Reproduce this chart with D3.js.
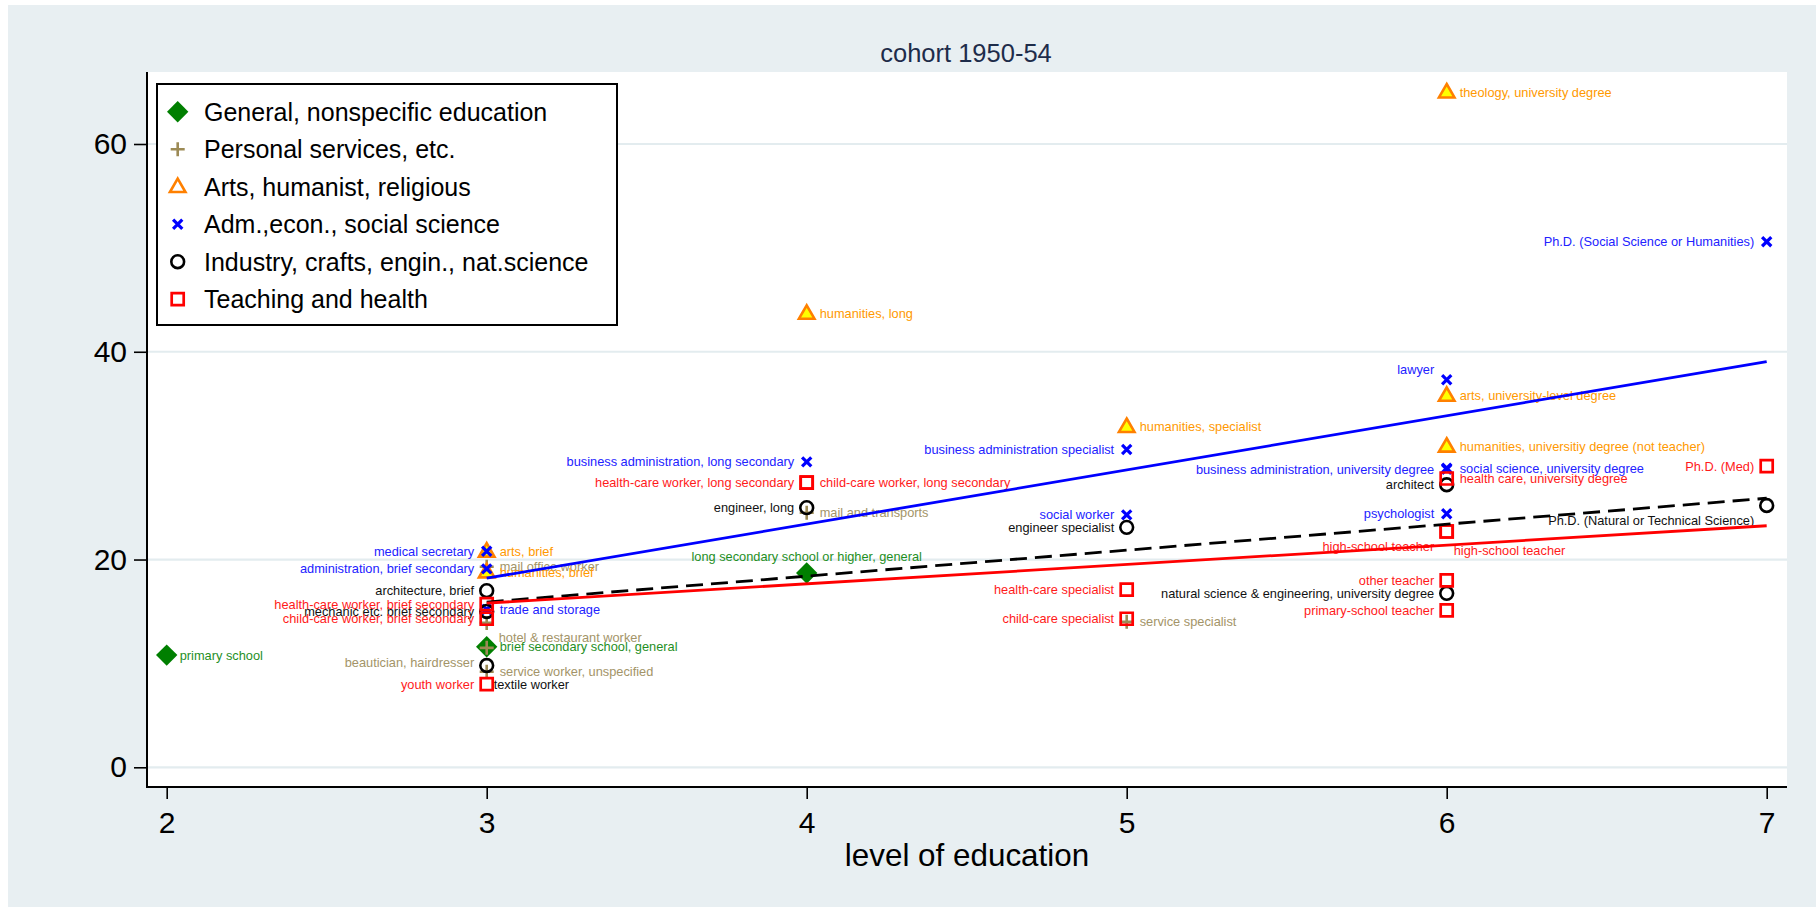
<!DOCTYPE html>
<html>
<head>
<meta charset="utf-8">
<script src="https://cdn.jsdelivr.net/npm/d3@7"></script>
<style>
  html, body { margin: 0; padding: 0; background: #ffffff; }
  svg { display: block; }
  text { font-family: "Liberation Sans", Arial, Helvetica, sans-serif; }
</style>
</head>
<body>
<svg id="chart" width="1816" height="907"></svg>
<script>
// ---------------- DATA ----------------
const title = "cohort 1950-54";
const xTitle = "level of education";
const xTicks = [2, 3, 4, 5, 6, 7];
const yTicks = [0, 20, 40, 60];

const categories = [
  "General, nonspecific education",
  "Personal services, etc.",
  "Arts, humanist, religious",
  "Adm.,econ., social science",
  "Industry, crafts, engin., nat.science",
  "Teaching and health"
];

// General, nonspecific education
const generalLevel = [2, 3, 4];
const generalValue = [10.8, 11.6, 18.7];
const generalLabel = ["primary school", "brief secondary school, general", "long secondary school or higher, general"];
const generalClock = [3, 3, 12];

// Personal services, etc.
const personalLevel = [3, 3, 3, 3, 4, 5];
const personalValue = [19.3, 13.9, 11.5, 9.2, 24.5, 14.0];
const personalLabel = ["mail office worker", "hotel & restaurant worker", "beautician, hairdresser", "service worker, unspecified", "mail and transports", "service specialist"];
const personalClock = [3, 4, 7, 3, 3, 3];

// Arts, humanist, religious
const artsLevel = [3, 3, 4, 5, 6, 6, 6];
const artsValue = [20.8, 18.8, 43.7, 32.8, 65.0, 35.8, 30.9];
const artsLabel = ["arts, brief", "humanities, brief", "humanities, long", "humanities, specialist", "theology, university degree", "arts, university-level degree", "humanities, universitiy degree (not teacher)"];
const artsClock = [3, 3, 3, 3, 3, 3, 3];

// Adm., econ., social science
const admLevel = [3, 3, 3, 4, 5, 5, 6, 6, 6, 6, 7];
const admValue = [20.8, 19.1, 15.2, 29.4, 30.6, 24.3, 37.3, 28.7, 28.8, 24.4, 50.6];
const admLabel = ["medical secretary", "administration, brief secondary", "trade and storage", "business administration, long secondary", "business administration specialist", "social worker", "lawyer", "business administration, university degree", "social science, university degree", "psychologist", "Ph.D. (Social Science or Humanities)"];
const admClock = [9, 9, 3, 9, 9, 9, 10, 9, 3, 9, 9];

// Industry, crafts, engin., nat.science
const industryLevel = [3, 3, 3, 4, 5, 6, 6, 7];
const industryValue = [17.0, 15.0, 9.8, 25.0, 23.1, 27.2, 16.75, 25.2];
const industryLabel = ["architecture, brief", "mechanic etc. brief secondary", "textile worker", "engineer, long", "engineer specialist", "architect", "natural science & engineering, university degree", "Ph.D. (Natural or Technical Science)"];
const industryClock = [9, 9, 5, 9, 9, 9, 9, 7];

// Teaching and health
const teachingLevel = [3, 3, 3, 4, 4, 5, 5, 6, 6, 6, 6, 6, 7];
const teachingValue = [15.7, 14.3, 8.0, 27.4, 27.4, 17.1, 14.3, 27.8, 22.7, 22.7, 18.0, 15.1, 29.0];
const teachingLabel = ["health-care worker, brief secondary", "child-care worker, brief secondary", "youth worker", "health-care worker, long secondary", "child-care worker, long secondary", "health-care specialist", "child-care specialist", "health care, university degree", "high-school teacher", "high-school teacher", "other teacher", "primary-school teacher", "Ph.D. (Med)"];
const teachingClock = [9, 9, 9, 9, 3, 9, 9, 3, 7, 5, 9, 9, 9];

// Linear fits (value at level 3 and level 7)
const fitLevels = [3, 7];
const fitAdm = [18.2, 39.05];
const fitIndustry = [15.9, 25.9];
const fitTeaching = [15.8, 23.25];

// ---------------- STYLES ----------------
const W = 1816, H = 907;
const plot = { left: 147, right: 1787, top: 72, bottom: 787 };

const seriesStyle = [
  { marker: "diamond", fill: "#007f00", stroke: "none", sw: 0, text: "#1f8f1f", legendFill: "#007f00" },
  { marker: "plus", fill: "none", stroke: "#9c8a55", sw: 2.6, text: "#a39468", legendFill: "none" },
  { marker: "triangle", fill: "#ffff00", stroke: "#ff8000", sw: 2.6, text: "#ff9900", legendFill: "#ffffff" },
  { marker: "x", fill: "none", stroke: "#0000ff", sw: 3.2, text: "#2222ff", legendFill: "none" },
  { marker: "circle", fill: "none", stroke: "#000000", sw: 2.6, text: "#111111", legendFill: "none" },
  { marker: "square", fill: "none", stroke: "#ff0000", sw: 2.7, text: "#ff1a1a", legendFill: "none" }
];

function markerPath(type) {
  const p = d3.path();
  switch (type) {
    case "diamond": { const r = 10.7; p.moveTo(0, -r); p.lineTo(r, 0); p.lineTo(0, r); p.lineTo(-r, 0); p.closePath(); break; }
    case "plus": { const r = 7; p.moveTo(-r, 0); p.lineTo(r, 0); p.moveTo(0, -r); p.lineTo(0, r); break; }
    case "triangle": { const s = 15.5, h = s * 0.866; p.moveTo(0, -h * 0.6); p.lineTo(s / 2, h * 0.4); p.lineTo(-s / 2, h * 0.4); p.closePath(); break; }
    case "x": { const r = 4.6; p.moveTo(-r, -r); p.lineTo(r, r); p.moveTo(-r, r); p.lineTo(r, -r); break; }
    case "circle": { p.arc(0, 0, 6.4, 0, 2 * Math.PI); p.closePath(); break; }
    case "square": { const r = 6; p.rect(-r, -r, 2 * r, 2 * r); break; }
  }
  return p.toString();
}

// label offset by clock position
const clockOffset = {
  3: { dx: 13, dy: 0, anchor: "start" },
  9: { dx: -12.5, dy: 0, anchor: "end" },
  10: { dx: -12.5, dy: -10, anchor: "end" },
  12: { dx: 0, dy: -17, anchor: "middle" },
  7: { dx: -12.5, dy: 15, anchor: "end" },
  5: { dx: 7, dy: 19, anchor: "start" },
  4: { dx: 12, dy: 14, anchor: "start" }
};

// ---------------- BUILD ----------------
const series = [
  { level: generalLevel, value: generalValue, label: generalLabel, clock: generalClock },
  { level: personalLevel, value: personalValue, label: personalLabel, clock: personalClock },
  { level: artsLevel, value: artsValue, label: artsLabel, clock: artsClock },
  { level: admLevel, value: admValue, label: admLabel, clock: admClock },
  { level: industryLevel, value: industryValue, label: industryLabel, clock: industryClock },
  { level: teachingLevel, value: teachingValue, label: teachingLabel, clock: teachingClock }
].map((s, i) => ({
  name: categories[i], style: seriesStyle[i],
  points: s.level.map((lv, j) => ({ x: lv, y: s.value[j], label: s.label[j], clock: s.clock[j] }))
}));

const svg = d3.select("#chart");

// background
svg.append("rect").attr("x", 8).attr("y", 5).attr("width", W - 8).attr("height", H - 5).attr("fill", "#e8eff2");
svg.append("rect").attr("x", plot.left).attr("y", plot.top)
  .attr("width", plot.right - plot.left).attr("height", plot.bottom - plot.top).attr("fill", "#ffffff");

const x = d3.scaleLinear().domain([2, 7]).range([166.7, 1766.7]);
const y = d3.scaleLinear().domain([0, 60]).range([767.3, 144]);

// gridlines
svg.append("g").selectAll("line").data(yTicks).join("line")
  .attr("x1", plot.left).attr("x2", plot.right)
  .attr("y1", d => y(d)).attr("y2", d => y(d))
  .attr("stroke", "#e3ecef").attr("stroke-width", 2.2);

// axes
const yAxis = svg.append("g").attr("transform", `translate(${plot.left},0)`)
  .call(d3.axisLeft(y).tickValues(yTicks).tickSize(13).tickPadding(7).tickFormat(d3.format("d")));
const xAxis = svg.append("g").attr("transform", `translate(0,${plot.bottom})`)
  .call(d3.axisBottom(x).tickValues(xTicks).tickSize(12).tickPadding(13).tickFormat(d3.format("d")));
[yAxis, xAxis].forEach(g => {
  g.select(".domain").remove();
  g.selectAll(".tick line").attr("stroke", "#000").attr("stroke-width", 1.6);
  g.selectAll(".tick text").attr("fill", "#000").attr("font-size", 30)
    .attr("font-family", '"Liberation Sans", Arial, sans-serif');
});
svg.append("line").attr("x1", plot.left).attr("x2", plot.left).attr("y1", plot.top).attr("y2", plot.bottom + 1)
  .attr("stroke", "#000").attr("stroke-width", 2);
svg.append("line").attr("x1", plot.left - 1).attr("x2", plot.right).attr("y1", plot.bottom).attr("y2", plot.bottom)
  .attr("stroke", "#000").attr("stroke-width", 2);

// titles
svg.append("text").attr("x", (plot.left + plot.right) / 2 - 1).attr("y", 62)
  .attr("text-anchor", "middle").attr("font-size", 25.5).attr("fill", "#1e2c4a").text(title);
svg.append("text").attr("x", (plot.left + plot.right) / 2).attr("y", 866)
  .attr("text-anchor", "middle").attr("font-size", 31.4).attr("fill", "#000").text(xTitle);

// scatter series
const gPts = svg.append("g");
series.forEach(s => {
  const g = gPts.append("g");
  g.selectAll("path").data(s.points).join("path")
    .attr("d", markerPath(s.style.marker))
    .attr("transform", d => `translate(${x(d.x)},${y(d.y)})`)
    .attr("fill", s.style.fill).attr("stroke", s.style.stroke).attr("stroke-width", s.style.sw)
    .attr("stroke-linejoin", "miter");
  g.selectAll("text").data(s.points).join("text")
    .attr("x", d => x(d.x) + clockOffset[d.clock].dx)
    .attr("y", d => y(d.y) + clockOffset[d.clock].dy)
    .attr("dy", "0.36em")
    .attr("text-anchor", d => clockOffset[d.clock].anchor)
    .attr("font-size", 12.8).attr("fill", s.style.text)
    .text(d => d.label);
});

// fitted lines
const lineGen = d3.line().x(d => x(d[0])).y(d => y(d[1]));
const fits = [
  { vals: fitAdm, color: "#0000ff", dash: null },
  { vals: fitIndustry, color: "#000000", dash: "17,8" },
  { vals: fitTeaching, color: "#ff0000", dash: null }
];
fits.forEach(f => {
  svg.append("path").datum(fitLevels.map((lv, i) => [lv, f.vals[i]]))
    .attr("d", lineGen).attr("fill", "none").attr("stroke", f.color).attr("stroke-width", 2.8)
    .attr("stroke-dasharray", f.dash);
});

// legend
const lg = svg.append("g");
lg.append("rect").attr("x", 157).attr("y", 84).attr("width", 460).attr("height", 241)
  .attr("fill", "#fff").attr("stroke", "#000").attr("stroke-width", 2);
categories.forEach((c, i) => {
  const cy = 111.7 + i * 37.5;
  const st = seriesStyle[i];
  lg.append("path").attr("d", markerPath(st.marker)).attr("transform", `translate(177.7,${cy})`)
    .attr("fill", st.legendFill).attr("stroke", st.stroke).attr("stroke-width", st.sw);
  lg.append("text").attr("x", 204).attr("y", cy).attr("dy", "0.36em")
    .attr("font-size", 25).attr("fill", "#000").text(c);
});
</script>
</body>
</html>
